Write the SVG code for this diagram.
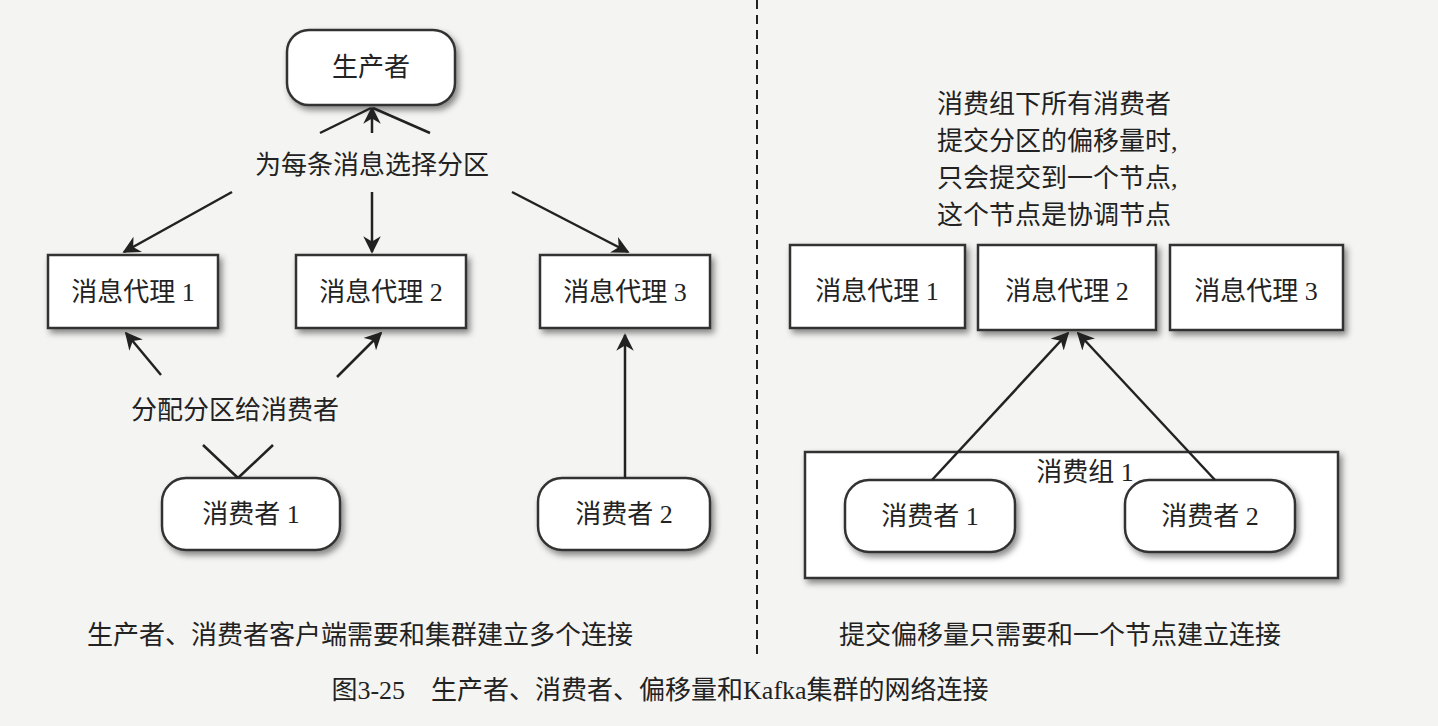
<svg xmlns="http://www.w3.org/2000/svg" width="1438" height="726" viewBox="0 0 1438 726">
<style>
text{font-family:"Liberation Serif","Noto Sans CJK SC",serif;font-size:26px;fill:#222;text-anchor:middle;dominant-baseline:central}
.n{fill:#fff;stroke:#333;stroke-width:2.5;filter:url(#sh)}
.c line{stroke:#222;stroke-width:2.5}
.a{marker-end:url(#ar)}
</style>
<defs>
<filter id="sh" x="-10%" y="-10%" width="130%" height="140%"><feDropShadow dx="3" dy="4" stdDeviation="3" flood-color="#000" flood-opacity="0.45"/></filter>
<marker id="ar" viewBox="0 0 10 10" refX="9" refY="5" markerWidth="7" markerHeight="7" orient="auto"><path d="M0,0 L10,5 L0,10 L3,5 z" fill="#222"/></marker>
</defs>
<rect width="1438" height="726" fill="#f4f4f2"/>
<g id="producer"><rect class="n" x="287" y="30" width="168" height="75" rx="22"/><text x="371" y="67">生产者</text></g>
<g id="b1"><rect class="n" x="48" y="255" width="170" height="73"/><text x="133" y="292">消息代理 1</text></g>
<g id="b2"><rect class="n" x="296" y="255" width="170" height="73"/><text x="381" y="292">消息代理 2</text></g>
<g id="b3"><rect class="n" x="540" y="255" width="170" height="73"/><text x="625" y="292">消息代理 3</text></g>
<g id="c1"><rect class="n" x="162" y="478" width="178" height="72" rx="24"/><text x="251" y="514">消费者 1</text></g>
<g id="c2"><rect class="n" x="538" y="478" width="172" height="72" rx="24"/><text x="624" y="514">消费者 2</text></g>
<g id="rb1"><rect class="n" x="790" y="245" width="175" height="83"/><text x="877" y="291">消息代理 1</text></g>
<g id="rb2"><rect class="n" x="978" y="245" width="178" height="85"/><text x="1067" y="291">消息代理 2</text></g>
<g id="rb3"><rect class="n" x="1170" y="245" width="173" height="85"/><text x="1256" y="291">消息代理 3</text></g>
<g id="group"><rect class="n" x="805" y="452" width="533" height="126"/><text x="1085" y="472">消费组 1</text>
<rect class="n" x="845" y="480" width="170" height="72" rx="24"/><text x="930" y="516">消费者 1</text>
<rect class="n" x="1125" y="480" width="170" height="72" rx="24"/><text x="1210" y="516">消费者 2</text></g>
<g class="c">
<line x1="320" y1="133" x2="371" y2="108"/>
<line class="a" x1="372" y1="133" x2="372" y2="108"/>
<line x1="430" y1="133" x2="373" y2="108"/>
<line class="a" x1="232" y1="192" x2="124" y2="252"/>
<line class="a" x1="372" y1="192" x2="372" y2="252"/>
<line class="a" x1="512" y1="192" x2="628" y2="252"/>
<line class="a" x1="161" y1="375" x2="126" y2="333"/>
<line class="a" x1="337" y1="377" x2="381" y2="333"/>
<line x1="203" y1="445" x2="238" y2="478"/>
<line x1="273" y1="445" x2="238" y2="478"/>
<line class="a" x1="625" y1="478" x2="625" y2="335"/>
<line class="a" x1="932" y1="480" x2="1068" y2="333"/>
<line class="a" x1="1215" y1="480" x2="1078" y2="333"/>
<line x1="757" y1="0" x2="757" y2="655" stroke-dasharray="9,6" style="stroke-width:2"/>
</g>
<text x="372" y="165">为每条消息选择分区</text>
<text x="235" y="410">分配分区给消费者</text>
<text x="360" y="635">生产者、消费者客户端需要和集群建立多个连接</text>
<text x="1060" y="635">提交偏移量只需要和一个节点建立连接</text>
<text x="937" y="104" style="text-anchor:start">消费组下所有消费者</text>
<text x="937" y="141" style="text-anchor:start">提交分区的偏移量时,</text>
<text x="937" y="178" style="text-anchor:start">只会提交到一个节点,</text>
<text x="937" y="215" style="text-anchor:start">这个节点是协调节点</text>
<text x="660" y="690" xml:space="preserve">图3-25    生产者、消费者、偏移量和Kafka集群的网络连接</text>
</svg>
